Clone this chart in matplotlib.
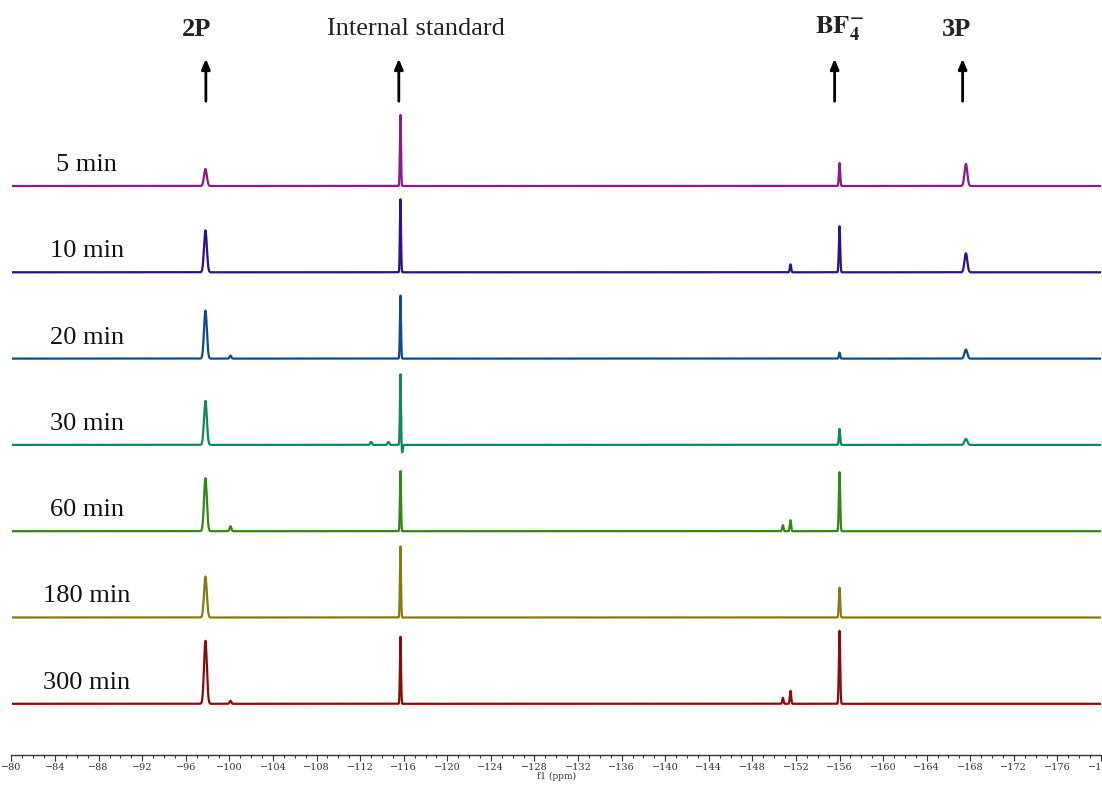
"""
Stacked 19F NMR spectra over reaction time (2P -> 3P, BF4- and internal standard).
"""
import numpy as np
import matplotlib.pyplot as plt
from matplotlib.ticker import MultipleLocator, FuncFormatter

plt.rcParams["mathtext.fontset"] = "stix"

# ---- data -------------------------------------------------------------
times = ["5 min", "10 min", "20 min", "30 min", "60 min", "180 min", "300 min"]
colors = ["#8b1a8b", "#2d0f90", "#0c4b8c", "#0d8a5c", "#2f8a10", "#8a7a0c", "#8b0b0b"]

# peak positions (ppm) and per-spectrum heights (arbitrary units)
peak_ppm = [-97.8, -115.7, -156.0, -167.6, -150.8, -151.5, -100.1, -113.0, -114.6, -115.85]
peak_width = [0.13, 0.05, 0.06, 0.13, 0.06, 0.06, 0.08, 0.08, 0.08, 0.06]
heights = {
    "5 min":   [17, 71, 23, 22, 0, 0, 0, 0, 0, 0],
    "10 min":  [42, 73, 46, 19, 0, 8, 0, 0, 0, 0],
    "20 min":  [48, 63, 6, 9, 0, 0, 3, 0, 0, 0],
    "30 min":  [44, 71, 16, 6, 0, 0, 0, 3, 3, -8],
    "60 min":  [53, 60, 59, 0, 6, 11, 5, 0, 0, 0],
    "180 min": [41, 71, 30, 0, 0, 0, 0, 0, 0, 0],
    "300 min": [63, 67, 73, 0, 6, 13, 3, 0, 0, 0],
}

annotations = ["2P", "Internal standard", r"$\mathbf{BF_4^{-}}$", "3P"]
annot_ppm = [-97.0, -117.1, -156.0, -166.7]
arrow_ppm = [-97.84, -115.55, -155.55, -167.3]
annot_bold = [True, False, True, True]

# ---- figure -----------------------------------------------------------
fig = plt.figure(figsize=(11.02, 7.85), dpi=100)
ax = fig.add_axes([11.5 / 1102, 30 / 785, (1101 - 11.5) / 1102, 755 / 785])
ax.set_xlim(-80, -180)
ax.set_ylim(0, 755)

x = np.linspace(-80, -180, 20001)
top_base, step = 569, 86.3
for i, (t, c) in enumerate(zip(times, colors)):
    base = top_base - i * step
    y = np.zeros_like(x)
    for p, w, h in zip(peak_ppm, peak_width, heights[t]):
        if h:
            y += h * np.exp(-0.5 * ((x - p) / w) ** 2)
    ax.plot(x, base + y, color=c, lw=1.6)
    ax.text(-86.9, base + 21, t, ha="center", va="center", fontsize=19,
            family="Liberation Serif", color="#111111")

for lab, xp, xa, bold in zip(annotations, annot_ppm, arrow_ppm, annot_bold):
    ax.text(xp, 726, lab, ha="center", va="center", fontsize=19,
            family="Liberation Serif", fontweight="bold" if bold else "normal",
            color="#222222")
    ax.annotate("", xy=(xa, 699), xytext=(xa, 651),
                arrowprops=dict(arrowstyle="-|>,head_length=0.6,head_width=0.25",
                                color="black", lw=2))

for s in ["left", "right", "top"]:
    ax.spines[s].set_visible(False)
ax.spines["bottom"].set_color("#333333")
ax.spines["bottom"].set_linewidth(1.0)
ax.set_yticks([])
ax.xaxis.set_major_locator(MultipleLocator(4))
ax.xaxis.set_minor_locator(MultipleLocator(1))
ax.xaxis.set_major_formatter(FuncFormatter(lambda v, _: f"\u2212{abs(v):.0f}"))
ax.tick_params(axis="x", which="major", length=4, width=0.8, colors="#333333",
               labelsize=7, pad=2)
ax.tick_params(axis="x", which="minor", length=2.5, width=0.8, colors="#333333")
for lbl in ax.get_xticklabels():
    lbl.set_family("DejaVu Serif")
ax.set_xlabel("f1 (ppm)", fontsize=6.5, family="DejaVu Serif", labelpad=0, color="#333333")

fig.savefig("out.png", dpi=100)
